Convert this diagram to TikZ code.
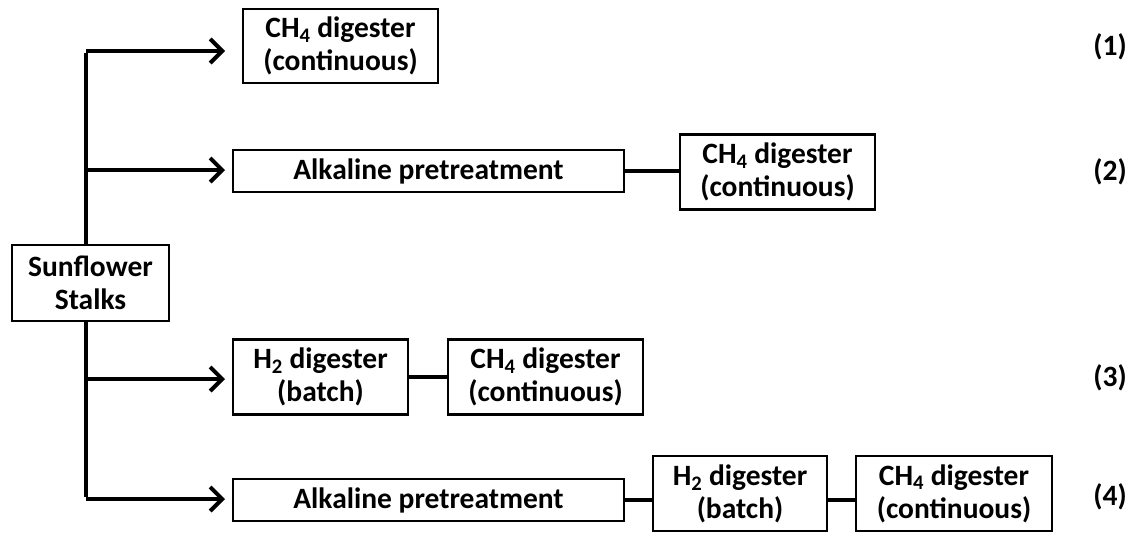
\documentclass[tikz,border=0pt]{standalone}
\usepackage{fontspec}
\setmainfont{Carlito}
\usetikzlibrary{arrows.meta}
\tikzset{
  box/.style={draw=black, line width=2.5pt, fill=white, inner sep=0pt, outer sep=0pt,
    align=center, font=\bfseries\fontsize{29.5}{33}\selectfont},
  lbl/.style={font=\bfseries\fontsize{29.5}{33}\selectfont, inner sep=0pt},
  arr/.style={line width=4pt, -{Straight Barb[length=12pt,width=24pt,line width=4pt]}},
  link/.style={line width=3.5pt},
  trunk/.style={line width=4pt}
}
\begin{document}
\begin{tikzpicture}[x=1pt,y=-1pt]
\useasboundingbox (0,0) rectangle (1137,533);
% nodes
\node[box, minimum width=157pt, minimum height=76pt] (ss) at (90.5,283) {Sunflower\\Stalks};
\node[box, minimum width=195pt, minimum height=74pt] (a1) at (340.5,46) {CH\textsubscript{4} digester\\(continuous)};
\node[box, minimum width=391pt, minimum height=42pt] (p2) at (428.5,171) {Alkaline pretreatment};
\node[box, minimum width=195pt, minimum height=75pt] (c2) at (777.5,172) {CH\textsubscript{4} digester\\(continuous)};
\node[box, minimum width=175pt, minimum height=75pt] (h3) at (320.5,377) {H\textsubscript{2} digester\\(batch)};
\node[box, minimum width=195pt, minimum height=75pt] (c3) at (545.5,377) {CH\textsubscript{4} digester\\(continuous)};
\node[box, minimum width=391pt, minimum height=42pt] (p4) at (428.5,500) {Alkaline pretreatment};
\node[box, minimum width=174pt, minimum height=75pt] (h4) at (740,493.5) {H\textsubscript{2} digester\\(batch)};
\node[box, minimum width=196pt, minimum height=75pt] (c4) at (954,493.5) {CH\textsubscript{4} digester\\(continuous)};
% labels
\node[lbl] (l1) at (1110,47) {(1)};
\node[lbl] (l2) at (1110,172) {(2)};
\node[lbl] (l3) at (1110,378) {(3)};
\node[lbl] (l4) at (1110,497) {(4)};
% junctions
\coordinate (j1) at (86,51);
\coordinate (j2) at (86,170);
\coordinate (j3) at (86,379);
\coordinate (j4) at (86,499);
\coordinate (tip) at (225,0);
% trunk
\draw[trunk] (j1 |- ss.north) -- ([yshift=-2pt]j1);
\draw[trunk] (j4 |- ss.south) -- ([yshift=2pt]j4);
% arrows
\draw[arr] (j1) -- (j1 -| tip);
\draw[arr] (j2) -- (j2 -| tip);
\draw[arr] (j3) -- (j3 -| tip);
\draw[arr] (j4) -- (j4 -| tip);
% links
\draw[link] (p2.east) -- (c2.west |- p2.east);
\draw[link] (h3.east) -- (c3.west);
\draw[link] (p4.east) -- (p4.east -| h4.west);
\draw[link] (h4.east |- p4.east) -- (c4.west |- p4.east);
\end{tikzpicture}
\end{document}
